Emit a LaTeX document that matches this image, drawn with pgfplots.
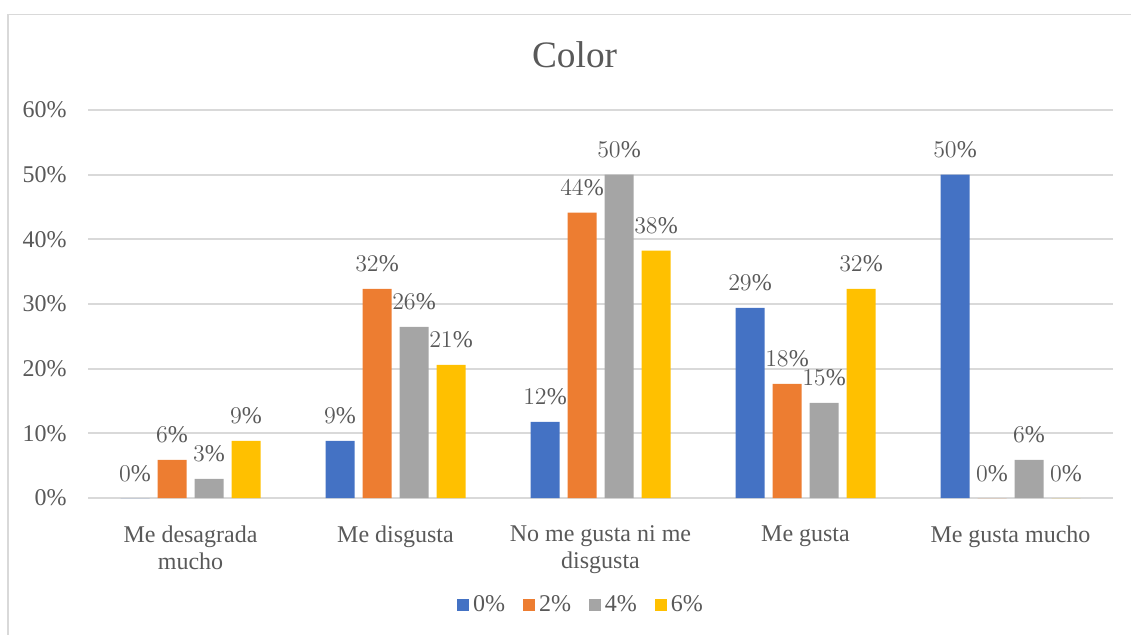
\documentclass[border=0pt]{standalone}
\usepackage{pgfplots}
\pgfplotsset{compat=1.18}
\usepackage{fontspec}
\setmainfont{Liberation Serif}

\definecolor{txt}{HTML}{595959}
\definecolor{gridc}{HTML}{D9D9D9}
\definecolor{c0}{HTML}{4472C4}
\definecolor{c2}{HTML}{ED7D31}
\definecolor{c4}{HTML}{A5A5A5}
\definecolor{c6}{HTML}{FFC000}

\newcommand{\lblfont}{\fontsize{12}{13.5}\selectfont}

\begin{document}
\begin{tikzpicture}
\clip (0,0) rectangle (565.5pt,317pt);
% chart frame
\draw[gridc, line width=0.7pt] (4pt,-5pt) -- (4pt,309.8pt) -- (600pt,309.8pt);
\node[font=\fontsize{18.67}{20}\selectfont, text=txt, anchor=base] at (287.3pt,283.5pt) {Color};
\begin{axis}[
  at={(44pt,68pt)}, anchor=south west,
  scale only axis, width=512.5pt, height=194pt,
  xmin=-0.5, xmax=4.5, ymin=0, ymax=60,
  ybar=4pt, bar width=14.5pt,
  axis line style={draw=none},
  tick style={draw=none},
  ymajorgrids, grid style={gridc, line width=0.9pt},
  ytick={0,10,20,30,40,50,60},
  yticklabels={0\%,10\%,20\%,30\%,40\%,50\%,60\%},
  yticklabel style={font=\lblfont, text=txt, anchor=east, inner sep=0pt, xshift=-10.5pt},
  xtick={0,1,2,3,4},
  xticklabels={{Me desagrada\\mucho},{Me disgusta},{No me gusta ni me\\disgusta},{Me gusta},{Me gusta mucho}},
  xticklabel style={font=\lblfont, text=txt, align=center, anchor=north, inner sep=0pt, yshift=-9.5pt},
  nodes near coords={\pgfmathprintnumber[fixed,precision=0]{\pgfplotspointmeta}\%},
  every node near coord/.append style={font=\lblfont, text=txt, anchor=base, inner sep=0pt, yshift=8.5pt},
  legend columns=4,
  legend style={at={(0.48,-0.276)}, anchor=center, draw=none, font=\lblfont, text=txt,
    nodes={inner sep=0pt},
    /tikz/every odd column/.append style={column sep=2pt},
    /tikz/every even column/.append style={column sep=9pt}},
  legend image code/.code={\fill[#1] (0pt,-3pt) rectangle (6pt,3pt);},
]
\addplot[fill=c0, draw=none] coordinates {(0,0) (1,8.82) (2,11.76) (3,29.41) (4,50.00)};
\addplot[fill=c2, draw=none] coordinates {(0,5.88) (1,32.35) (2,44.12) (3,17.65) (4,0)};
\addplot[fill=c4, draw=none] coordinates {(0,2.94) (1,26.47) (2,50.00) (3,14.71) (4,5.88)};
\addplot[fill=c6, draw=none] coordinates {(0,8.82) (1,20.59) (2,38.24) (3,32.35) (4,0)};
\legend{0\%,2\%,4\%,6\%}
\end{axis}
\end{tikzpicture}
\end{document}
